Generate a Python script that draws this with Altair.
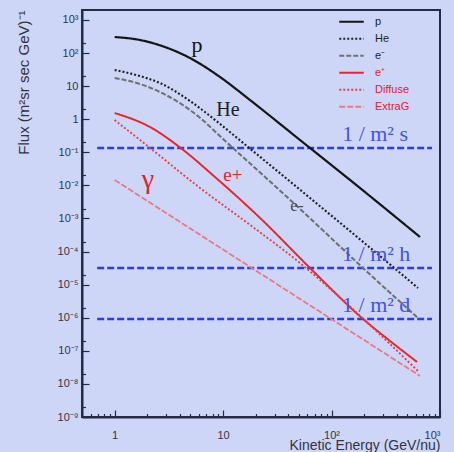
import altair as alt
import pandas as pd

# ---- spectra: kinetic energy (GeV/nucleon) and flux (m^2 sr s GeV)^-1 ----
series_names = ["p", "He", "e⁻", "e⁺", "Diffuse", "ExtraG"]

p_energy = [1.0, 1.71, 2.91, 4.95, 9.36, 17.7, 51.2, 148, 654]
p_flux = [305, 248, 152, 70.8, 18.9, 3.81, 0.235, 0.0146, 2.76e-4]

he_energy = [1.0, 1.71, 2.62, 4.95, 9.36, 16.97, 63.3, 369, 627]
he_flux = [30.8, 20.2, 12.4, 3.56, 0.718, 0.145, 4.17e-3, 3.42e-5, 7.9e-6]

em_energy = [1.0, 1.71, 2.62, 4.95, 12.3, 51.2, 195, 627]
em_flux = [17.6, 11.6, 6.65, 1.90, 0.135, 1.94e-3, 3.19e-5, 9.8e-7]

ep_energy = [1.0, 2.12, 4.18, 8.42, 21.9, 63.3, 195, 346, 614]
ep_flux = [1.54, 0.58, 0.126, 0.0179, 1.04e-3, 3.19e-5, 9.2e-7, 1.99e-7, 4.6e-8]

diffuse_energy = [1.0, 2.12, 6.12, 17.7, 51.2, 112.3, 640]
diffuse_flux = [0.95, 0.135, 8.4e-3, 6.4e-4, 4.5e-5, 4.9e-6, 2.3e-8]

extrag_energy = [1.0, 654]
extrag_flux = [0.0146, 1.74e-8]

# ---- rate reference levels ----
rate_labels = ["1 / m² s", "1 / m² h", "1 / m² d"]
rate_flux = [0.135, 3.19e-5, 9.2e-7]
rate_energy_span = [0.69, 843]
rate_label_energy = [252, 258, 258]
rate_label_flux = [0.358, 8.5e-5, 2.4e-6]

# ---- curve names written next to the curves ----
curve_texts = ["p", "He", "e-", "γ", "e+"]
curve_text_energy = [5.74, 11.1, 48.0, 2.03, 12.3]
curve_text_flux = [175, 1.9, 2.39e-3, 0.0146, 0.0207]
curve_text_colors = ["#141414", "#1e1e1e", "#4a4a4a", "#e3212b", "#e3212b"]
curve_text_sizes = [22, 20, 17, 28, 19]

# ---- axes ----
y_decades = [1e-9, 1e-8, 1e-7, 1e-6, 1e-5, 1e-4, 1e-3, 1e-2, 1e-1, 1, 10, 100, 1000]
y_tick_labels = ["10⁻⁹", "10⁻⁸", "10⁻⁷", "10⁻⁶", "10⁻⁵", "10⁻⁴", "10⁻³",
                 "10⁻²", "10⁻¹", "1", "10", "10²", "10³"]
x_decades = [1, 10, 100, 1000]
x_tick_labels = ["1", "10", "10²", "10³"]

series_colors = ["#151515", "#222222", "#707070", "#e8242c", "#e2404c", "#ec7884"]
series_dash = [[1, 0], [2, 2], [5, 2], [1, 0], [2, 2], [6, 2]]
series_width = [2.2, 1.8, 1.3, 2.0, 1.6, 1.2]
frame_color = "#262b45"
panel_color = "#cdd6f6"
rate_color = "#2a3cf0"

energy_lists = [p_energy, he_energy, em_energy, ep_energy, diffuse_energy, extrag_energy]
flux_lists = [p_flux, he_flux, em_flux, ep_flux, diffuse_flux, extrag_flux]
rows = []
for name, es, fs in zip(series_names, energy_lists, flux_lists):
    for i, (e, f) in enumerate(zip(es, fs)):
        rows.append({"series": name, "E": e, "flux": f, "order": i})
curves = pd.DataFrame(rows)

rates = pd.DataFrame({
    "label": rate_labels,
    "flux": rate_flux,
    "E0": [rate_energy_span[0]] * 3,
    "E1": [rate_energy_span[1]] * 3,
    "lE": rate_label_energy,
    "lF": rate_label_flux,
})

# tick positions: decades plus 2..9 subdivisions on x
x_ticks = [0.5, 0.6, 0.7, 0.8, 0.9]
for d in [1, 10, 100]:
    x_ticks += [d * k for k in range(1, 10)]
x_ticks.append(1000)
y_ticks = []
for d in y_decades:
    y_ticks.append(d)
    if d < 1000:
        y_ticks.append(d * 2)


def label_expr(values, labels):
    expr = "''"
    for v, lab in zip(values, labels):
        expr = f"abs(datum.value - {v!r}) < {v!r} * 0.001 ? '{lab}' : ({expr})"
    return expr


is_decade = "abs(log(datum.value) / LN10 - round(log(datum.value) / LN10)) < 0.001"

x_scale = alt.Scale(type="log", domain=[0.5, 1000], nice=False)
y_scale = alt.Scale(type="log", domain=[1e-9, 2000], nice=False)

x_axis = alt.Axis(
    values=x_ticks,
    labelExpr=label_expr(x_decades, x_tick_labels),
    tickSize=alt.ExprRef(f"{is_decade} ? -7 : -3.5"),
    labelPadding=19,
    title="Kinetic Energy (GeV/nu)",
    titleAnchor="end",
    titleY=28,
    titleBaseline="middle",
    titleFontSize=14,
    titleFontWeight="normal",
    grid=False,
)
y_axis = alt.Axis(
    values=y_ticks,
    labelExpr=label_expr(y_decades, y_tick_labels),
    tickSize=alt.ExprRef(f"{is_decade} ? -7 : -3.5"),
    labelPadding=11,
    title="Flux (m²sr sec GeV)⁻¹",
    titleAnchor="end",
    titleX=-51,
    titleFontSize=15,
    titleFontWeight="normal",
    grid=False,
)

lines = alt.Chart(curves).mark_line(clip=True, interpolate="monotone").encode(
    x=alt.X("E:Q", scale=x_scale, axis=x_axis),
    y=alt.Y("flux:Q", scale=y_scale, axis=y_axis),
    order="order:Q",
    color=alt.Color(
        "series:N",
        scale=alt.Scale(domain=series_names, range=series_colors),
        legend=alt.Legend(
            title=None,
            orient="none",
            legendX=256,
            legendY=3.5,
            symbolType="stroke",
            symbolSize=600,
            symbolStrokeWidth=2,
            clipHeight=16.5,
            rowPadding=0,
            labelFontSize=11,
            labelFont="Liberation Sans",
            labelOffset=10,
            labelExpr="datum.label == 'Diffuse' || datum.label == 'ExtraG' ? '\u2002\u2002' + datum.label : datum.label",
            labelColor=alt.ExprRef(
                "datum.label == 'e⁺' || datum.label == 'Diffuse' || datum.label == 'ExtraG' ? '#e3212b' : '#1e1e1e'"
            ),
        ),
    ),
    strokeDash=alt.StrokeDash(
        "series:N",
        scale=alt.Scale(domain=series_names, range=series_dash),
    ),
    strokeWidth=alt.StrokeWidth(
        "series:N",
        scale=alt.Scale(domain=series_names, range=series_width),
        legend=None,
    ),
)

rate_rules = alt.Chart(rates).mark_rule(
    color=rate_color, strokeWidth=2.6, strokeDash=[7, 3]
).encode(
    x="E0:Q", x2="E1:Q", y="flux:Q"
)

rate_text = alt.Chart(rates).mark_text(
    font="Liberation Serif", fontSize=22, color="#4254e2", align="center", baseline="middle"
).encode(
    x="lE:Q", y="lF:Q", text="label:N"
)

# one text layer per curve name, each with its own colour and size
note_layers = []
for t, e, f, c, s in zip(curve_texts, curve_text_energy, curve_text_flux,
                         curve_text_colors, curve_text_sizes):
    note = pd.DataFrame({"text": [t], "E": [e], "flux": [f]})
    note_layers.append(
        alt.Chart(note).mark_text(
            font="Liberation Serif", fontSize=s, color=c, align="center", baseline="middle"
        ).encode(x="E:Q", y="flux:Q", text="text:N")
    )

chart = alt.layer(rate_rules, lines, rate_text, *note_layers).properties(
    width=358,
    height=407,
    autosize=alt.AutoSizeParams(type="none"),
    padding={"left": 82, "top": 10, "right": 14, "bottom": 35},
    background=panel_color,
).configure_view(
    stroke=frame_color, strokeWidth=2, fill=panel_color
).configure_axis(
    domainColor=frame_color,
    domainWidth=2,
    tickColor=frame_color,
    tickWidth=1.2,
    labelFont="Liberation Sans",
    labelFontSize=11,
    labelColor="#333344",
    titleFont="Liberation Sans",
    titleColor="#333344",
)

chart.save("out.html", embed_options={"renderer": "svg", "actions": False})
